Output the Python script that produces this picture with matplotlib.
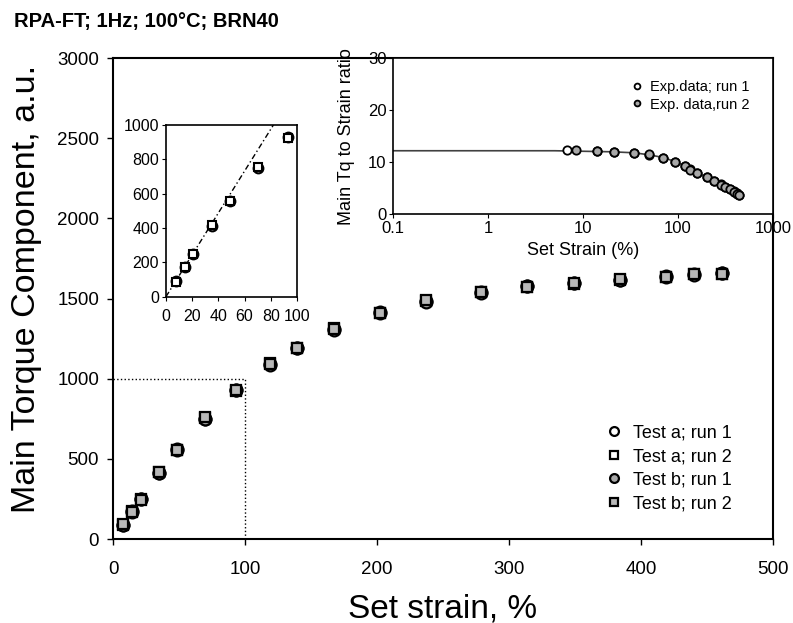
import matplotlib
matplotlib.use("Agg")
import matplotlib.pyplot as plt

plt.rcParams['font.family'] = ['Liberation Sans', 'DejaVu Sans']

# ---- data ----
strain_a1 = [7.3, 14.2, 21, 34.8, 48.7, 70, 93, 118.7, 139.6, 167.7, 202, 237, 279, 314, 349, 384, 419, 440, 461]
torque_a1 = [90, 172, 250, 412, 560, 748, 930, 1090, 1193, 1310, 1414, 1482, 1540, 1580, 1597, 1617, 1638, 1650, 1657]
strain_a2 = [7.3, 14.2, 21, 34.8, 48.7, 70, 93, 118.7, 139.6, 167.7, 202, 237, 279, 314, 349, 384, 419, 440, 461]
torque_a2 = [85, 175, 248, 418, 555, 755, 925, 1095, 1190, 1315, 1410, 1485, 1538, 1572, 1593, 1618, 1634, 1652, 1653]
strain_b1 = [7.3, 14.2, 21, 34.8, 48.7, 70, 93, 118.7, 139.6, 167.7, 202, 237, 279, 314, 349, 384, 419, 440, 461]
torque_b1 = [88, 170, 252, 410, 558, 750, 932, 1088, 1192, 1305, 1412, 1478, 1536, 1578, 1598, 1615, 1637, 1648, 1660]
strain_b2 = [7.3, 14.2, 21, 34.8, 48.7, 70, 93, 118.7, 139.6, 167.7, 202, 237, 279, 314, 349, 384, 419, 440, 461]
torque_b2 = [92, 168, 246, 415, 553, 758, 928, 1092, 1189, 1312, 1408, 1488, 1542, 1570, 1596, 1620, 1635, 1651, 1655]

# inset: linear fit line (low strain)
lin_strain = [0, 82]
lin_torque = [0, 1000]

# ratio inset
ratio_strain_1 = [6.8, 13.9, 20.9, 34, 48.9, 69, 93, 118, 135, 160, 200, 240, 280, 310, 350, 390, 420, 440]
ratio_vals_1 = [12.3, 12.1, 12.0, 11.8, 11.4, 10.9, 10.1, 9.3, 8.7, 8.0, 7.2, 6.4, 5.8, 5.3, 4.9, 4.4, 4.0, 3.8]
ratio_strain_2 = [8.4, 13.9, 20.9, 34, 48.9, 69, 93, 118, 135, 160, 200, 240, 280, 310, 350, 390, 420, 440]
ratio_vals_2 = [12.4, 12.2, 11.9, 11.7, 11.5, 10.8, 10.0, 9.2, 8.6, 7.9, 7.1, 6.3, 5.7, 5.2, 4.8, 4.3, 3.9, 3.7]
fit_strain = [0.1, 1, 5, 10, 20, 35, 50, 70, 100, 150, 200, 300, 450]
fit_ratio = [12.2, 12.2, 12.2, 12.1, 12.0, 11.8, 11.4, 10.9, 9.9, 8.2, 7.1, 5.7, 3.7]

x_ticks = [0, 100, 200, 300, 400, 500]
y_ticks = [0, 500, 1000, 1500, 2000, 2500, 3000]

fig = plt.figure(figsize=(7.93, 6.23), dpi=100)
ax = fig.add_axes([0.1425, 0.1348, 0.8323, 0.7721])

ms = 8.5
ax.plot(strain_a1, torque_a1, 'o', ms=ms, mfc='white', mec='black', mew=1.6, label='Test a; run 1', zorder=3)
ax.plot(strain_a2, torque_a2, 's', ms=ms - 1, mfc='white', mec='black', mew=1.6, label='Test a; run 2', zorder=3)
ax.plot(strain_b1, torque_b1, 'o', ms=ms, mfc='#a8a8a8', mec='black', mew=1.6, label='Test b; run 1', zorder=4)
ax.plot(strain_b2, torque_b2, 's', ms=ms - 1, mfc='#b8b8b8', mec='black', mew=1.6, label='Test b; run 2', zorder=4)

ax.plot([0, 100], [1000, 1000], ':', color='black', lw=1.0)
ax.plot([100, 100], [0, 1000], ':', color='black', lw=1.0)

ax.set_xlim(0, 500)
ax.set_ylim(0, 3000)
ax.set_xticks(x_ticks)
ax.set_yticks(y_ticks)
ax.tick_params(labelsize=13.5, direction='out', length=4, width=1)
ax.tick_params(axis='x', pad=12)
ax.tick_params(axis='y', pad=6)
for s in ax.spines.values():
    s.set_linewidth(1.5)
ax.set_xlabel('Set strain, %', fontsize=24)
ax.xaxis.set_label_coords(0.5, -0.113)
ax.set_ylabel('Main Torque Component, a.u.', fontsize=24.5)
ax.yaxis.set_label_coords(-0.108, 0.52)

leg = ax.legend(loc='upper left', bbox_to_anchor=(0.745, 0.238), frameon=False, fontsize=13,
                handletextpad=0.55, labelspacing=0.36, markerscale=0.75, handlelength=1.0,
                borderpad=0, borderaxespad=0)

fig.text(0.018, 0.965, 'RPA-FT; 1Hz; 100°C; BRN40', fontsize=14.5, fontweight='bold', va='center')

# left inset
ax1 = fig.add_axes([0.2093, 0.5238, 0.1652, 0.2756])
ax1.plot(lin_strain, lin_torque, linestyle=(0, (4, 2, 1, 2)), color='black', lw=1.0)
ax1.plot(strain_a1, torque_a1, 'o', ms=7, mfc='white', mec='black', mew=1.5)
ax1.plot(strain_a2, torque_a2, 's', ms=6, mfc='white', mec='black', mew=1.5)
ax1.set_xlim(0, 100)
ax1.set_ylim(0, 1000)
ax1.set_xticks([0, 20, 40, 60, 80, 100])
ax1.set_yticks([0, 200, 400, 600, 800, 1000])
ax1.tick_params(labelsize=11.5, direction='out', length=3, pad=2)
ax1.tick_params(axis='x', pad=6)
for s in ax1.spines.values():
    s.set_linewidth(1.2)

# right inset
ax2 = fig.add_axes([0.496, 0.656, 0.4788, 0.2509])
ax2.plot(fit_strain, fit_ratio, '-', color='#404040', lw=1.2, zorder=2)
ax2.plot(ratio_strain_1, ratio_vals_1, 'o', ms=6, mfc='white', mec='black', mew=1.3, label='Exp.data; run 1', zorder=3)
ax2.plot(ratio_strain_2, ratio_vals_2, 'o', ms=6, mfc='#a8a8a8', mec='black', mew=1.3, label='Exp. data,run 2', zorder=3)
ax2.set_xscale('log')
ax2.set_xlim(0.1, 1000)
ax2.set_ylim(0, 30)
ax2.set_xticks([0.1, 1, 10, 100, 1000])
ax2.set_xticklabels(['0.1', '1', '10', '100', '1000'])
ax2.minorticks_off()
ax2.set_yticks([0, 10, 20, 30])
ax2.tick_params(labelsize=12, direction='out', length=3, pad=2)
for s in ax2.spines.values():
    s.set_linewidth(1.2)
ax2.set_xlabel('Set Strain (%)', fontsize=13, labelpad=4)
ax2.set_ylabel('Main Tq to Strain ratio', fontsize=13, labelpad=9)
ax2.legend(loc='upper left', bbox_to_anchor=(0.622, 0.86), frameon=False, fontsize=10.5,
           handletextpad=0.4, labelspacing=0.25, markerscale=0.7, handlelength=1.0,
           borderpad=0, borderaxespad=0)

fig.savefig('out.png', dpi=100)
